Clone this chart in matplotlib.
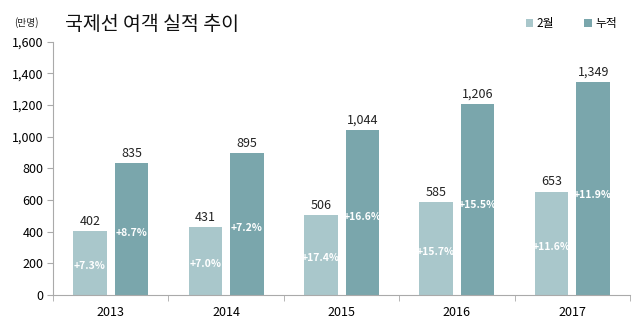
import numpy as np
import matplotlib.pyplot as plt

plt.rcParams['font.family'] = ['Noto Sans CJK KR', 'DejaVu Sans']

years = ['2013', '2014', '2015', '2016', '2017']
feb = [402, 431, 506, 585, 653]
total = [835, 895, 1044, 1206, 1349]
feb_pct = ['+7.3%', '+7.0%', '+17.4%', '+15.7%', '+11.6%']
total_pct = ['+8.7%', '+7.2%', '+16.6%', '+15.5%', '+11.9%']

c_light = '#a9c7cb'
c_dark = '#7aa6ac'

fig = plt.figure(figsize=(6.39, 3.27), dpi=100)
ax = fig.add_axes([0.083, 0.098, 0.903, 0.774])

x = np.arange(len(years))
w = 0.29
off = 0.18
ax.bar(x - off, feb, w, color=c_light, label='2월')
ax.bar(x + off, total, w, color=c_dark, label='누적')

for i in range(len(years)):
    ax.text(x[i] - off, feb[i] + 20, f'{feb[i]:,}', ha='center', va='bottom', fontsize=9, color='#222222')
    ax.text(x[i] + off, total[i] + 20, f'{total[i]:,}', ha='center', va='bottom', fontsize=9, color='#222222')
    ax.text(x[i] - off, feb[i] * 0.46, feb_pct[i], ha='center', va='center', fontsize=7.5,
            color='white', fontweight='semibold')
    ax.text(x[i] + off, total[i] * 0.47, total_pct[i], ha='center', va='center', fontsize=7.5,
            color='white', fontweight='semibold')

ax.set_xlim(-0.5, 4.5)
ax.set_ylim(0, 1600)
ax.set_yticks(range(0, 1601, 200))
ax.set_yticklabels([f'{v:,}' for v in range(0, 1601, 200)], fontsize=9)
ax.set_xticks(x)
ax.set_xticklabels(years, fontsize=9)
ax.tick_params(axis='x', which='major', length=0, pad=8)
ax.set_xticks(np.arange(-0.5, 5, 1), minor=True)
ax.tick_params(axis='x', which='minor', length=4, color='#aaaaaa')
ax.tick_params(axis='y', length=4, color='#aaaaaa', pad=3)

for s in ['top', 'right']:
    ax.spines[s].set_visible(False)
ax.spines['left'].set_color('#aaaaaa')
ax.spines['bottom'].set_color('#aaaaaa')

fig.text(0.102, 0.925, '국제선 여객 실적 추이', fontsize=14, color='#111111', va='center',
         fontweight='medium')
fig.text(0.022, 0.93, '(만명)', fontsize=7, color='#222222', va='center')

fig.legend(loc='center right', bbox_to_anchor=(0.982, 0.928), ncol=2, frameon=False, fontsize=8.5,
           handlelength=0.6, handleheight=0.6, handletextpad=0.3, columnspacing=2.6)

plt.savefig('out.png', dpi=100)
